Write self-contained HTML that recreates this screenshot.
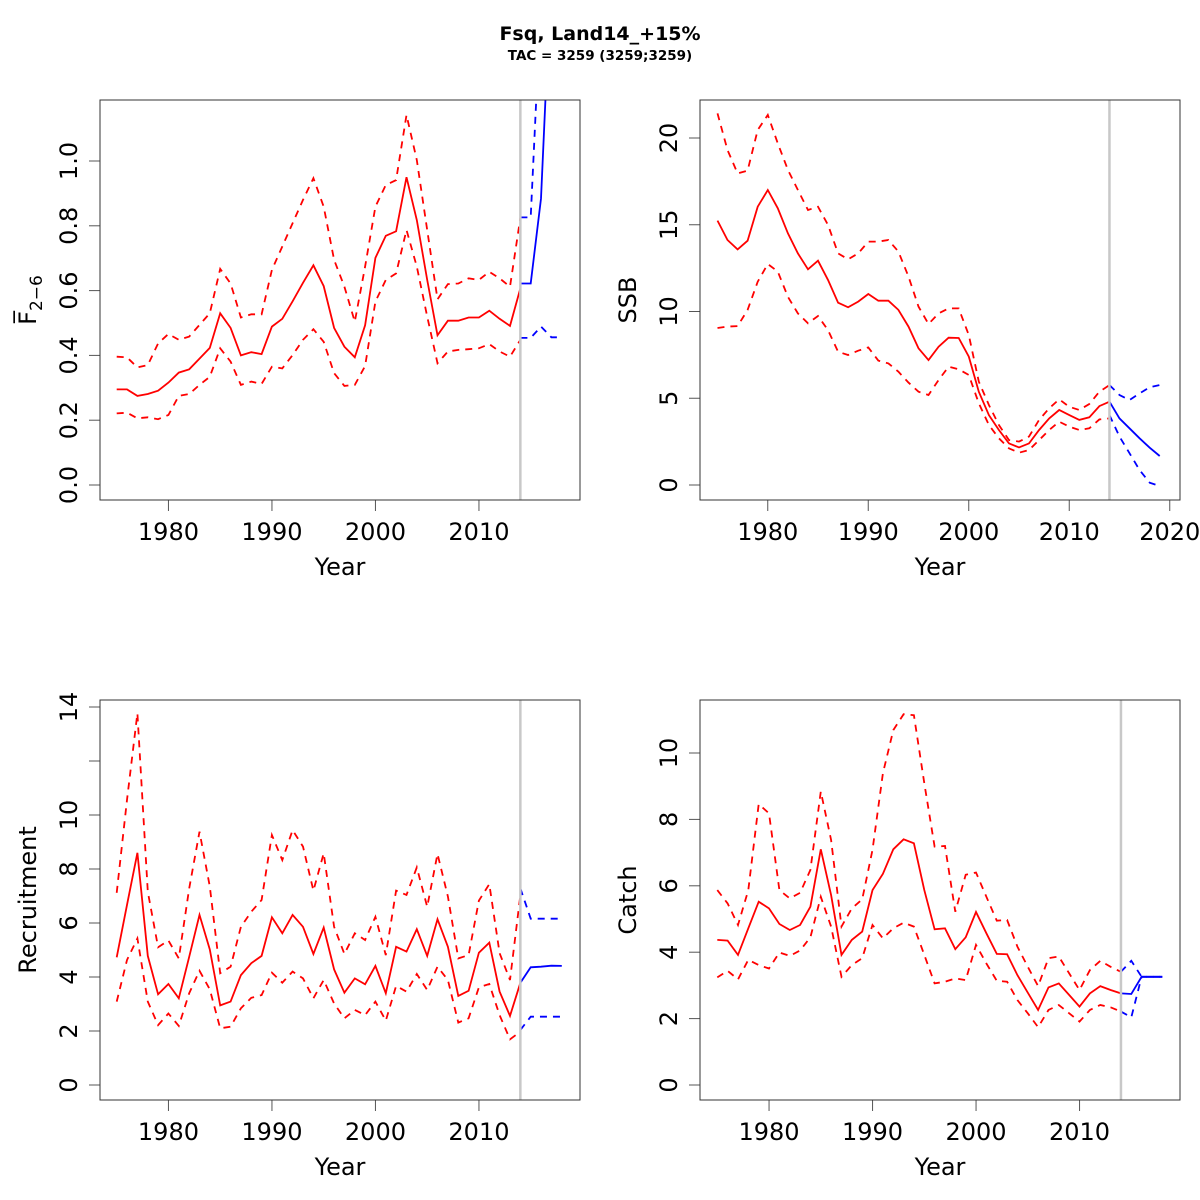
<!DOCTYPE html>
<html><head><meta charset="utf-8"><style>
html,body{margin:0;padding:0;background:#fff}
svg{display:block}
text{font-family:"DejaVu Sans","Liberation Sans",sans-serif;fill:#000}
</style></head><body>
<svg id="chart" width="1200" height="1200" viewBox="0 0 1200 1200" xmlns="http://www.w3.org/2000/svg">
<text x="600" y="40" text-anchor="middle" font-size="19" font-weight="bold">Fsq, Land14_+15%</text>
<text x="600" y="60" text-anchor="middle" font-size="13.5" font-weight="bold">TAC = 3259 (3259;3259)</text>
</svg>
<script>
const years = [];
for (let y = 1975; y <= 2014; y++) years.push(y);
const projYearsF = [2014,2015,2016,2017,2018];
const projYearsSSB = [2014,2015,2016,2017,2018,2019];
const projYearsR = [2014,2015,2016,2017,2018];
const projYearsC = [2014,2015,2016,2017,2018];

const fMed = [0.295,0.295,0.275,0.281,0.291,0.316,0.347,0.357,0.390,0.423,0.530,0.485,0.400,0.410,0.404,0.489,0.513,0.567,0.624,0.678,0.614,0.485,0.427,0.394,0.493,0.701,0.769,0.783,0.950,0.818,0.633,0.462,0.507,0.507,0.517,0.517,0.538,0.513,0.491,0.607];
const fUp = [0.396,0.394,0.363,0.370,0.437,0.466,0.448,0.458,0.494,0.530,0.667,0.622,0.517,0.527,0.527,0.664,0.736,0.808,0.880,0.947,0.859,0.695,0.612,0.504,0.674,0.859,0.926,0.941,1.142,1.003,0.787,0.573,0.620,0.622,0.638,0.633,0.658,0.638,0.612,0.826];
const fLo = [0.221,0.223,0.206,0.209,0.203,0.216,0.275,0.281,0.309,0.334,0.422,0.381,0.309,0.319,0.312,0.365,0.360,0.401,0.448,0.481,0.442,0.345,0.306,0.309,0.367,0.566,0.633,0.653,0.787,0.674,0.520,0.376,0.412,0.417,0.419,0.422,0.435,0.412,0.396,0.448];
const fProjMed = [0.622,0.622,0.884,1.6,1.8];
const fProjUp = [0.826,0.826,1.5,2.5,3.0];
const fProjLo = [0.454,0.454,0.489,0.456,0.456];

const ssbMed = [15.24,14.12,13.58,14.08,16.04,17.00,15.95,14.51,13.35,12.43,12.93,11.82,10.51,10.24,10.57,11.01,10.62,10.62,10.09,9.13,7.88,7.20,7.97,8.49,8.47,7.40,5.38,4.03,3.17,2.40,2.17,2.40,3.17,3.84,4.32,4.03,3.75,3.90,4.55,4.80];
const ssbUp = [21.42,19.31,17.96,18.12,20.46,21.33,19.69,18.16,17.00,15.85,16.04,14.99,13.35,13.01,13.35,14.03,14.03,14.12,13.45,12.01,10.28,9.28,9.89,10.18,10.18,8.64,5.96,4.61,3.46,2.59,2.50,2.79,3.75,4.42,4.94,4.51,4.32,4.67,5.38,5.76];
const ssbLo = [9.05,9.13,9.16,10.09,11.72,12.74,12.30,10.85,9.89,9.32,9.74,8.93,7.68,7.49,7.74,7.93,7.17,7.01,6.53,5.90,5.38,5.19,6.05,6.82,6.67,6.34,4.71,3.46,2.69,2.11,1.86,2.02,2.59,3.17,3.65,3.36,3.17,3.27,3.78,3.84];
const ssbProjMed = [4.80,3.84,3.27,2.69,2.15,1.67];
const ssbProjUp = [5.76,5.19,4.90,5.28,5.63,5.76];
const ssbProjLo = [4.03,2.79,1.83,0.86,0.13,-0.06];

const recMed = [4.73,6.67,8.60,4.78,3.36,3.74,3.21,4.75,6.30,5.02,2.95,3.09,4.07,4.51,4.78,6.21,5.62,6.30,5.86,4.85,5.83,4.28,3.42,3.95,3.73,4.41,3.40,5.12,4.94,5.77,4.78,6.14,5.12,3.30,3.49,4.90,5.27,3.46,2.56,3.79];
const recUp = [7.12,10.56,13.77,7.16,5.10,5.35,4.69,7.28,9.38,7.35,4.14,4.38,5.86,6.42,6.85,9.26,8.33,9.44,8.83,7.20,8.58,5.86,4.85,5.62,5.37,6.23,4.81,7.20,7.04,8.06,6.60,8.56,6.98,4.69,4.81,6.83,7.44,4.88,3.89,7.04];
const recLo = [3.09,4.63,5.43,3.09,2.22,2.65,2.19,3.40,4.23,3.54,2.10,2.16,2.84,3.23,3.33,4.16,3.79,4.20,3.95,3.21,3.89,3.02,2.47,2.78,2.59,3.09,2.38,3.67,3.46,4.11,3.52,4.38,3.89,2.31,2.47,3.62,3.74,2.59,1.69,1.98];
const recProjMed = [3.79,4.36,4.38,4.42,4.41];
const recProjUp = [7.28,6.16,6.16,6.16,6.16];
const recProjLo = [2.04,2.53,2.53,2.53,2.53];

const catMed = [4.37,4.35,3.92,4.72,5.52,5.32,4.85,4.67,4.82,5.37,7.10,5.72,3.92,4.37,4.62,5.87,6.36,7.10,7.40,7.28,5.87,4.69,4.72,4.09,4.45,5.21,4.57,3.95,3.94,3.31,2.78,2.26,2.94,3.06,2.71,2.36,2.76,2.98,2.86,2.76];
const catUp = [5.87,5.47,4.82,5.87,8.46,8.18,5.87,5.62,5.79,6.48,8.84,7.38,4.77,5.32,5.59,7.08,9.39,10.69,11.17,11.14,9.09,7.18,7.20,5.22,6.33,6.40,5.67,4.95,4.97,4.17,3.56,2.98,3.82,3.87,3.36,2.86,3.46,3.74,3.56,3.41];
const catLo = [3.24,3.44,3.18,3.77,3.61,3.51,3.99,3.89,4.05,4.45,5.67,4.77,3.26,3.61,3.82,4.82,4.42,4.72,4.89,4.77,3.92,3.06,3.11,3.21,3.16,4.22,3.66,3.14,3.11,2.56,2.16,1.74,2.26,2.41,2.16,1.91,2.26,2.41,2.34,2.21];
const catProjMed = [2.76,2.74,3.26,3.26,3.26];
const catProjUp = [3.41,3.74,3.26,3.26,3.26];
const catProjLo = [2.21,2.04,3.26,3.26,3.26];

const fTicks = [0,0.2,0.4,0.6,0.8,1.0];
const fTickLabels = ["0.0","0.2","0.4","0.6","0.8","1.0"];
const ssbTicks = [0,5,10,15,20];
const recTicks = [0,2,4,6,8,10,12,14];
const recTickLabels = ["0","2","4","6","8","10","","14"];
const catTicks = [0,2,4,6,8,10];
const xTicks13 = [1980,1990,2000,2010];
const xTicks2 = [1980,1990,2000,2010,2020];

const NS = "http://www.w3.org/2000/svg";
const svg = document.getElementById("chart");
function mk(tag, attrs, parent) {
  const e = document.createElementNS(NS, tag);
  for (const k in attrs) e.setAttribute(k, attrs[k]);
  (parent || svg).appendChild(e);
  return e;
}

function panel(cfg) {
  const g = mk("g", {});
  
  
  const L = cfg.box[0], T = cfg.box[1], R = cfg.box[2], B = cfg.box[3];
  const xs = v => cfg.x0 + (v - 1975) * cfg.xpy;
  const ys = v => cfg.y0 - v * cfg.ypu;
  const cid = "clip-" + cfg.name;
  const cp = mk("clipPath", {id: cid}, g);
  mk("rect", {x: L, y: T, width: R - L, height: B - T}, cp);
  cfg.yTicks.forEach((t, i) => {
    const y = ys(t);
    const tk = mk("line", {x1: L - 11, x2: L, y1: y, y2: y, stroke: "#555", "stroke-width": 1}, g);
    
    
    const lab = cfg.yLabels ? cfg.yLabels[i] : String(t);
    if (lab) {
      const tx = mk("text", {x: 0, y: 0, "font-size": 24, "text-anchor": "middle", transform: `translate(${L - 23},${y}) rotate(-90)`}, g);
      
      
      tx.textContent = lab;
    }
  });
  cfg.xTicks.forEach(t => {
    const x = xs(t);
    const tk = mk("line", {x1: x, x2: x, y1: B, y2: B + 11, stroke: "#555", "stroke-width": 1}, g);
    
    
    const tx = mk("text", {x: x, y: B + 40, "font-size": 24, "text-anchor": "middle"}, g);
    
    
    tx.textContent = String(t);
  });
  const xt = mk("text", {x: (L + R) / 2, y: B + 75, "font-size": 24, "text-anchor": "middle"}, g);
  
  
  xt.textContent = "Year";
  const yt = mk("text", {x: 0, y: 0, "font-size": 24, "text-anchor": "middle", transform: `translate(${L - 64},${(T + B) / 2}) rotate(-90)`}, g);
  
  
  if (cfg.fbar) {
    const t1 = mk("tspan", {}, yt); t1.textContent = "F\u0305";
    const t2 = mk("tspan", {dy: 6, "font-size": 17}, yt); t2.textContent = "2\u22126";
  } else yt.textContent = cfg.ylab;
  const pg = mk("g", {"clip-path": `url(#${cid})`}, g);
  const line = (xv, yv, color, dash, nm) => {
    const d = yv.map((v, i) => (i ? "L" : "M") + xs(xv[i]).toFixed(1) + "," + ys(v).toFixed(1)).join(" ");
    const p = mk("path", {d: d, fill: "none", stroke: color, "stroke-width": 1.8, "stroke-dasharray": dash ? "7,6" : "none"}, pg);
    
    
  };
  line(years, cfg.up, "#ff0000", true, "hist-upper-ci");
  line(years, cfg.lo, "#ff0000", true, "hist-lower-ci");
  line(years, cfg.med, "#ff0000", false, "hist-median");
  line(cfg.py, cfg.pup, "#0000ff", true, "proj-upper-ci");
  line(cfg.py, cfg.plo, "#0000ff", true, "proj-lower-ci");
  line(cfg.py, cfg.pmed, "#0000ff", false, "proj-median");
  const vx = xs(2014);
  const vl = mk("line", {x1: vx, x2: vx, y1: T, y2: B, stroke: "#c8c8c8", "stroke-width": 2.5}, g);
  
  
  const box = mk("rect", {x: L, y: T, width: R - L, height: B - T, fill: "none", stroke: "#333", "stroke-width": 1}, g);
  
  
}

panel({name: "f-panel", box: [100,100,580,500], x0: 116.7, xpy: 10.35, y0: 485, ypu: 324,
  yTicks: fTicks, yLabels: fTickLabels, xTicks: xTicks13, fbar: true,
  med: fMed, up: fUp, lo: fLo, py: projYearsF, pmed: fProjMed, pup: fProjUp, plo: fProjLo});
panel({name: "ssb-panel", box: [700,100,1180,500], x0: 717.5, xpy: 10.05, y0: 485, ypu: 17.35,
  yTicks: ssbTicks, xTicks: xTicks2, ylab: "SSB",
  med: ssbMed, up: ssbUp, lo: ssbLo, py: projYearsSSB, pmed: ssbProjMed, pup: ssbProjUp, plo: ssbProjLo});
panel({name: "recruitment-panel", box: [100,700,580,1100], x0: 116.7, xpy: 10.35, y0: 1085, ypu: 27,
  yTicks: recTicks, yLabels: recTickLabels, xTicks: xTicks13, ylab: "Recruitment",
  med: recMed, up: recUp, lo: recLo, py: projYearsR, pmed: recProjMed, pup: recProjUp, plo: recProjLo});
panel({name: "catch-panel", box: [700,700,1180,1100], x0: 717.3, xpy: 10.35, y0: 1085, ypu: 33.2,
  yTicks: catTicks, xTicks: xTicks13, ylab: "Catch",
  med: catMed, up: catUp, lo: catLo, py: projYearsC, pmed: catProjMed, pup: catProjUp, plo: catProjLo});
</script>
</body></html>
